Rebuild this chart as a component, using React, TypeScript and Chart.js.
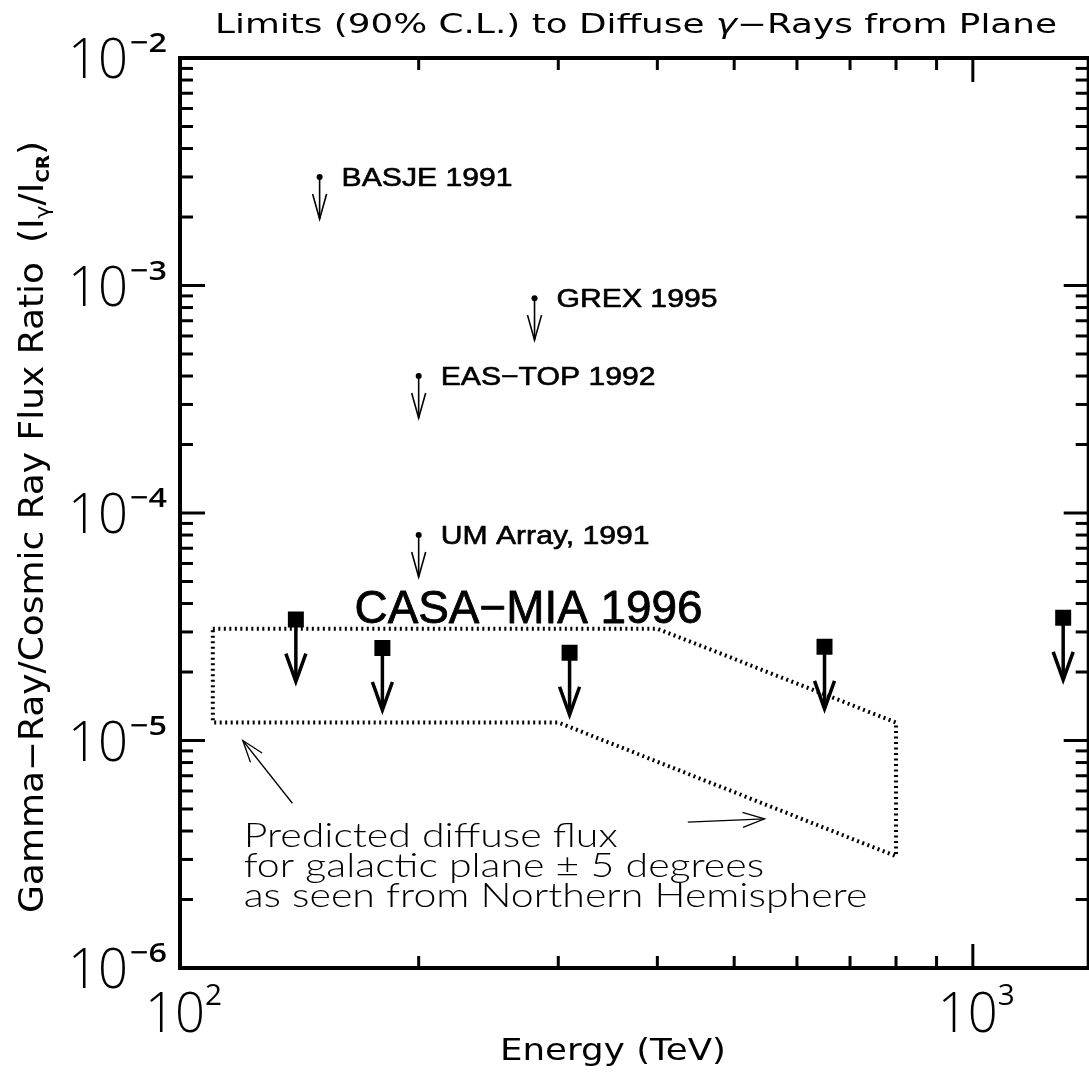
import React, { useEffect, useRef } from "react";
import { Chart, registerables } from "chart.js";

Chart.register(...registerables);

// ---------------- data ----------------
const X_MIN = 100;
const X_MAX = 1400;
const Y_MIN = 1e-6;
const Y_MAX = 1e-2;

const limitNames = ["BASJE 1991", "GREX 1995", "EAS\u2212TOP 1992", "UM Array, 1991"];
const limitEnergy = [150, 280, 200, 200];
const limitRatio = [3.0e-3, 8.8e-4, 4.0e-4, 8.0e-5];

const casaEnergy = [140, 180, 310, 650, 1300];
const casaRatio = [3.4e-5, 2.55e-5, 2.43e-5, 2.58e-5, 3.46e-5];

const bandEnergy = [110, 400, 800, 800, 300, 110, 110];
const bandRatio = [3.1e-5, 3.1e-5, 1.2e-5, 3.1e-6, 1.2e-5, 1.2e-5, 3.1e-5];

const xMajorTicks = [100, 1000];
const xMajorExp = ["2", "3"];
const yMajorTicks = [1e-6, 1e-5, 1e-4, 1e-3, 1e-2];
const yMajorExp = ["\u22126", "\u22125", "\u22124", "\u22123", "\u22122"];

const casaLabel = "CASA\u2212MIA 1996";
const casaLabelAt = { x: 166, y: 3.3e-5 };
const noteLines = [
  "Predicted diffuse flux",
  "for galactic plane \u00b1 5 degrees",
  "as seen from Northern Hemisphere",
];
const noteAt = { x: 120.3, y: 3.4e-6 };
const noteArrows = [
  { from: { x: 138.6, y: 5.3e-6 }, to: { x: 120, y: 1.0e-5 } },
  { from: { x: 437, y: 4.38e-6 }, to: { x: 546, y: 4.52e-6 } },
];

const titleText = ["Limits (90% C.L.) to Diffuse ", "\u03b3", "\u2212Rays from Plane"];
const xTitle = "Energy (TeV)";
const yTitleMain = "Gamma\u2212Ray/Cosmic Ray Flux Ratio";

// ---------------- helpers ----------------
const SANS = "'Liberation Sans', Arial, sans-serif";
const DEJA = "'DejaVu Sans', sans-serif";
const LIGHT = "'Open Sans', 'Liberation Sans', sans-serif";

function drawFit(
  ctx: CanvasRenderingContext2D,
  text: string,
  x: number,
  y: number,
  font: string,
  width: number | null,
  sx = 1,
  align: "left" | "right" | "center" = "left",
  stroke = 0
) {
  ctx.save();
  ctx.font = font;
  ctx.textAlign = "left";
  ctx.textBaseline = "alphabetic";
  const w = ctx.measureText(text).width;
  const s = width ? width / w : sx;
  const tw = w * s;
  const x0 = align === "left" ? x : align === "right" ? x - tw : x - tw / 2;
  ctx.translate(x0, y);
  ctx.scale(s, 1);
  ctx.fillStyle = "#000";
  ctx.fillText(text, 0, 0);
  if (stroke > 0) {
    ctx.strokeStyle = "#000";
    ctx.lineWidth = stroke;
    ctx.lineJoin = "round";
    ctx.strokeText(text, 0, 0);
  }
  ctx.restore();
  return tw;
}

function line(ctx: CanvasRenderingContext2D, x1: number, y1: number, x2: number, y2: number) {
  ctx.beginPath();
  ctx.moveTo(x1, y1);
  ctx.lineTo(x2, y2);
  ctx.stroke();
}

function arrowHead(
  ctx: CanvasRenderingContext2D,
  fx: number,
  fy: number,
  tx: number,
  ty: number,
  len: number,
  ang: number
) {
  const a = Math.atan2(ty - fy, tx - fx);
  ctx.beginPath();
  ctx.moveTo(tx - len * Math.cos(a - ang), ty - len * Math.sin(a - ang));
  ctx.lineTo(tx, ty);
  ctx.lineTo(tx - len * Math.cos(a + ang), ty - len * Math.sin(a + ang));
  ctx.stroke();
}

const decorPlugin = {
  id: "decor",
  afterDatasetsDraw(chart: any) {
    const ctx: CanvasRenderingContext2D = chart.ctx;
    ctx.save();
    ctx.strokeStyle = "#000";
    ctx.lineCap = "butt";
    // thin upper-limit arrows
    const m1 = chart.getDatasetMeta(1);
    m1.data.forEach((p: any) => {
      ctx.lineWidth = 1.6;
      const tipY = p.y + 42;
      line(ctx, p.x, p.y, p.x, tipY);
      ctx.beginPath();
      ctx.moveTo(p.x - 7, tipY - 25);
      ctx.lineTo(p.x, tipY);
      ctx.lineTo(p.x + 7, tipY - 25);
      ctx.stroke();
    });
    // thick CASA-MIA arrows
    const m2 = chart.getDatasetMeta(2);
    m2.data.forEach((p: any) => {
      ctx.lineWidth = 3.5;
      const tipY = p.y + 62;
      line(ctx, p.x, p.y, p.x, tipY - 1);
      ctx.beginPath();
      ctx.moveTo(p.x - 10, tipY - 28);
      ctx.lineTo(p.x, tipY);
      ctx.lineTo(p.x + 10, tipY - 28);
      ctx.stroke();
    });
    ctx.restore();
  },
  afterDraw(chart: any) {
    const ctx: CanvasRenderingContext2D = chart.ctx;
    const xs = chart.scales.x;
    const ys = chart.scales.y;
    const { left, right, top, bottom } = chart.chartArea;
    ctx.save();
    ctx.strokeStyle = "#000";
    ctx.lineCap = "butt";

    // frame
    ctx.lineWidth = 4;
    ctx.beginPath();
    ctx.moveTo(left, top);
    ctx.lineTo(right, top);
    ctx.lineTo(right, bottom);
    ctx.lineTo(left, bottom);
    ctx.closePath();
    ctx.stroke();

    // y ticks
    ctx.lineWidth = 3;
    for (let e = -6; e <= -2; e++) {
      for (let m = 1; m <= 9; m++) {
        const v = m * Math.pow(10, e);
        if (v < Y_MIN * 0.999 || v > Y_MAX * 1.001) continue;
        const py = ys.getPixelForValue(v);
        const len = m === 1 ? 25 : 13;
        line(ctx, left, py, left + len, py);
        line(ctx, right, py, right - len, py);
      }
    }
    // x ticks (minor only up to 1000)
    for (let e = 2; e <= 3; e++) {
      for (let m = 1; m <= 9; m++) {
        const v = m * Math.pow(10, e);
        if (v > 1000.1) continue;
        const px = xs.getPixelForValue(v);
        const len = m === 1 ? 24 : 12;
        line(ctx, px, bottom, px, bottom - len);
        line(ctx, px, top, px, top + len);
      }
    }

    // y tick labels
    yMajorTicks.forEach((v, i) => {
      const py = ys.getPixelForValue(v);
      drawFit(ctx, "10", 128, py + 20, `300 56px ${LIGHT}`, 60, 1, "right");
      drawFit(ctx, yMajorExp[i], 130, py - 6, `600 27px ${LIGHT}`, 37);
    });
    // x tick labels
    xMajorTicks.forEach((v, i) => {
      const px = xs.getPixelForValue(v);
      drawFit(ctx, "10", px - 35, 1032, `300 56px ${LIGHT}`, 60);
      drawFit(ctx, xMajorExp[i], px + 25, 1005, `400 30px ${LIGHT}`, 17);
    });

    // title
    ctx.font = `26px ${DEJA}`;
    const wA = ctx.measureText(titleText[0]).width;
    const wC = ctx.measureText(titleText[2]).width;
    ctx.font = `italic 26px ${DEJA}`;
    const wB = ctx.measureText(titleText[1]).width;
    const ts = 842 / (wA + wB + wC);
    let tx = 215;
    tx += drawFit(ctx, titleText[0], tx, 33, `26px ${DEJA}`, null, ts);
    tx += drawFit(ctx, titleText[1], tx, 33, `italic 26px ${DEJA}`, null, ts);
    drawFit(ctx, titleText[2], tx, 33, `26px ${DEJA}`, null, ts);

    // x title
    drawFit(ctx, xTitle, 500, 1060, `30px ${DEJA}`, 226);

    // y title (rotated)
    ctx.save();
    ctx.translate(43, 913);
    ctx.rotate(-Math.PI / 2);
    ctx.fillStyle = "#000";
    ctx.font = `33px ${DEJA}`;
    const wMain = ctx.measureText(yTitleMain).width;
    const ys2 = 651 / wMain;
    ctx.scale(ys2, 1);
    ctx.fillText(yTitleMain, 0, 0);
    let cx = (651 + 19) / ys2;
    const pieces: [string, string, number][] = [
      ["(", `33px ${DEJA}`, 0],
      ["I", `33px ${DEJA}`, 0],
      ["\u03b3", `20px ${DEJA}`, 6],
      ["/", `33px ${DEJA}`, 0],
      ["I", `33px ${DEJA}`, 0],
      ["CR", `bold 17px ${DEJA}`, 6],
      [")", `33px ${DEJA}`, 0],
    ];
    pieces.forEach(([t, f, dy]) => {
      ctx.font = f;
      ctx.fillText(t, cx, dy);
      cx += ctx.measureText(t).width;
    });
    ctx.restore();

    // experiment labels (uniform horizontal scale fitted on the first label)
    const labelFont = `26px ${SANS}`;
    ctx.font = labelFont;
    const ls = 171 / ctx.measureText(limitNames[0]).width;
    const m1 = chart.getDatasetMeta(1);
    m1.data.forEach((p: any, i: number) => {
      drawFit(ctx, limitNames[i], p.x + 22, p.y + 9, labelFont, null, ls, "left", 0.6);
    });

    // CASA-MIA label
    drawFit(
      ctx,
      casaLabel,
      xs.getPixelForValue(casaLabelAt.x),
      ys.getPixelForValue(casaLabelAt.y),
      `46px ${SANS}`,
      348,
      1,
      "left",
      0.8
    );

    // note text
    const nx = xs.getPixelForValue(noteAt.x);
    const ny = ys.getPixelForValue(noteAt.y);
    const noteFont = `300 33px Lato, ${SANS}`;
    ctx.font = noteFont;
    const ns = 374 / ctx.measureText(noteLines[0]).width;
    noteLines.forEach((t, i) => {
      drawFit(ctx, t, nx, ny + i * 30, noteFont, null, ns);
    });

    // note arrows
    ctx.lineWidth = 1.3;
    noteArrows.forEach((a) => {
      const fx = xs.getPixelForValue(a.from.x);
      const fy = ys.getPixelForValue(a.from.y);
      const tx2 = xs.getPixelForValue(a.to.x);
      const ty2 = ys.getPixelForValue(a.to.y);
      line(ctx, fx, fy, tx2, ty2);
      arrowHead(ctx, fx, fy, tx2, ty2, 23, 0.33);
    });

    ctx.restore();
  },
};

export default function App() {
  const ref = useRef<HTMLCanvasElement | null>(null);

  useEffect(() => {
    const canvas = ref.current;
    if (!canvas) return;
    const chart = new Chart(canvas, {
      type: "scatter",
      data: {
        datasets: [
          {
            label: "Predicted diffuse flux",
            data: bandEnergy.map((x, i) => ({ x, y: bandRatio[i] })),
            showLine: true,
            borderColor: "#000",
            borderWidth: 4,
            borderDash: [2, 3.5],
            pointRadius: 0,
            fill: false,
            tension: 0,
          } as any,
          {
            label: "Other limits",
            data: limitEnergy.map((x, i) => ({ x, y: limitRatio[i] })),
            pointStyle: "circle",
            pointRadius: 3,
            backgroundColor: "#000",
            borderColor: "#000",
            borderWidth: 0,
          },
          {
            label: "CASA-MIA 1996",
            data: casaEnergy.map((x, i) => ({ x, y: casaRatio[i] })),
            pointStyle: "rect",
            pointRadius: 11.3,
            backgroundColor: "#000",
            borderColor: "#000",
            borderWidth: 0,
          },
        ],
      },
      options: {
        animation: false,
        responsive: false,
        devicePixelRatio: 1,
        layout: { padding: { left: 180, right: 8, top: 58, bottom: 105 } },
        plugins: { legend: { display: false }, tooltip: { enabled: false } },
        scales: {
          x: { type: "logarithmic", min: X_MIN, max: X_MAX, display: false },
          y: { type: "logarithmic", min: Y_MIN, max: Y_MAX, display: false },
        },
      },
      plugins: [decorPlugin],
    });
    return () => chart.destroy();
  }, []);

  return (
    <div
      style={{
        position: "fixed",
        left: 0,
        top: 0,
        width: 1089,
        height: 1073,
        overflow: "hidden",
        background: "#fff",
      }}
    >
      <canvas ref={ref} width={1100} height={1073} style={{ display: "block" }} />
    </div>
  );
}
